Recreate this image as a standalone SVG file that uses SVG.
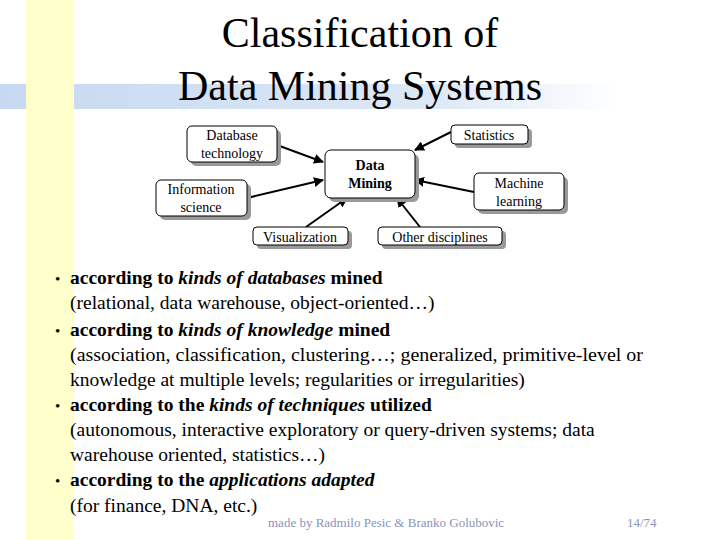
<svg xmlns="http://www.w3.org/2000/svg" width="720" height="540" viewBox="0 0 720 540">
<defs>
<linearGradient id="bl" x1="0" x2="1"><stop offset="0" stop-color="#c6d9f1"/><stop offset="0.7" stop-color="#dde8f6"/><stop offset="1" stop-color="#fff"/></linearGradient>
<marker id="ah" viewBox="0 0 10 10" refX="9" refY="5" markerWidth="5" markerHeight="5" orient="auto"><path d="M0,0L10,5L0,10z" fill="#000"/></marker>
<style>
text{font-family:"Liberation Serif","DejaVu Serif",serif}
.box{fill:#fff;stroke:#000;stroke-width:1}
.sh{fill:#999}
.nt{font-size:14px;text-anchor:middle}
.b{font-size:19.5px}
.c{stroke:#000;stroke-width:2;marker-end:url(#ah)}
</style>
</defs>
<rect width="720" height="540" fill="#fff"/>
<rect x="0" y="84" width="620" height="25" fill="url(#bl)"/>
<rect x="26" y="0" width="48" height="540" fill="#ffffcc"/>
<text x="360" y="47" font-size="42" text-anchor="middle">Classification of</text>
<text x="360" y="100" font-size="42" text-anchor="middle">Data Mining Systems</text>
<g id="connectors">
<line class="c" x1="277" y1="145" x2="323" y2="162"/>
<line class="c" x1="451" y1="132" x2="415" y2="150"/>
<line class="c" x1="247" y1="198" x2="323" y2="180"/>
<line class="c" x1="474" y1="192" x2="415" y2="180"/>
<line class="c" x1="306" y1="227" x2="347" y2="198"/>
<line class="c" x1="420" y1="227" x2="397" y2="198"/>
</g>
<g id="db"><rect class="sh" x="191" y="130" width="90" height="36" rx="5"/><rect class="box" x="187" y="126" width="90" height="36" rx="5"/><text class="nt" x="232" y="140">Database</text><text class="nt" x="232" y="158">technology</text></g>
<g id="stats"><rect class="sh" x="455" y="129" width="77" height="19" rx="4"/><rect class="box" x="451" y="125" width="77" height="19" rx="4"/><text class="nt" x="489" y="140">Statistics</text></g>
<g id="dm"><rect class="sh" x="329" y="154" width="90" height="48" rx="6"/><rect class="box" x="325" y="150" width="90" height="48" rx="6"/><text class="nt" x="370" y="170" font-weight="bold">Data</text><text class="nt" x="370" y="188" font-weight="bold">Mining</text></g>
<g id="info"><rect class="sh" x="160" y="184" width="91" height="36" rx="5"/><rect class="box" x="156" y="180" width="91" height="36" rx="5"/><text class="nt" x="201" y="194">Information</text><text class="nt" x="201" y="212">science</text></g>
<g id="ml"><rect class="sh" x="478" y="177" width="90" height="37" rx="5"/><rect class="box" x="474" y="173" width="90" height="37" rx="5"/><text class="nt" x="519" y="188">Machine</text><text class="nt" x="519" y="206">learning</text></g>
<g id="vis"><rect class="sh" x="257" y="231" width="95" height="18" rx="4"/><rect class="box" x="253" y="227" width="95" height="18" rx="4"/><text class="nt" x="300" y="242">Visualization</text></g>
<g id="other"><rect class="sh" x="382" y="231" width="124" height="18" rx="4"/><rect class="box" x="378" y="227" width="124" height="18" rx="4"/><text class="nt" x="440" y="242">Other disciplines</text></g>
<g class="b">
<text x="55" y="284" font-size="15">•</text><text x="55" y="336" font-size="15">•</text><text x="55" y="411" font-size="15">•</text><text x="55" y="486" font-size="15">•</text>
<text x="70" y="284" font-weight="bold">according to <tspan font-style="italic">kinds of databases</tspan> mined</text>
<text x="70" y="309">(relational, data warehouse, object-oriented…)</text>
<text x="70" y="336" font-weight="bold">according to <tspan font-style="italic">kinds of knowledge</tspan> mined</text>
<text x="70" y="361" textLength="573" lengthAdjust="spacingAndGlyphs">(association, classification, clustering…; generalized, primitive-level or</text>
<text x="70" y="386">knowledge at multiple levels; regularities or irregularities)</text>
<text x="70" y="411" font-weight="bold">according to the <tspan font-style="italic">kinds of techniques</tspan> utilized</text>
<text x="70" y="436">(autonomous, interactive exploratory or query-driven systems; data</text>
<text x="70" y="461">warehouse oriented, statistics…)</text>
<text x="70" y="486" font-weight="bold">according to the <tspan font-style="italic">applications adapted</tspan></text>
<text x="70" y="512">(for finance, DNA, etc.)</text>
</g>
<text x="268" y="527" font-size="13" fill="#8a94b8">made by Radmilo Pesic &amp; Branko Golubovic</text>
<text x="627" y="527" font-size="13" fill="#8a94b8">14/74</text>
</svg>
